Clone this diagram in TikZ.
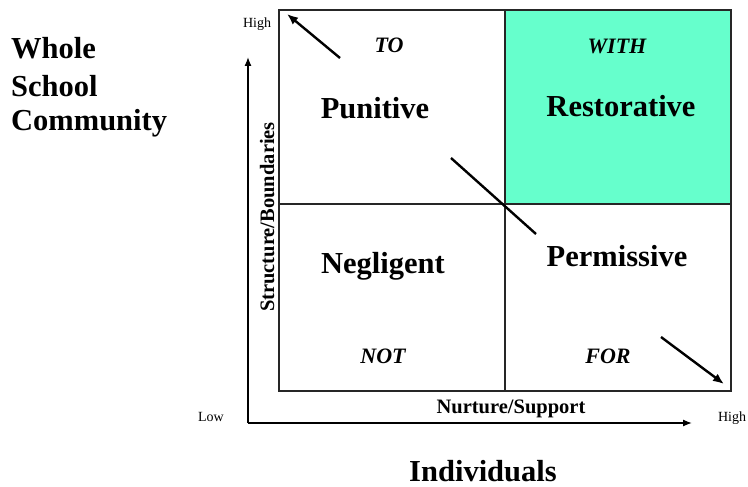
\documentclass[tikz,border=0pt]{standalone}
\usepackage{fontspec}
\setmainfont{Liberation Serif}
\usetikzlibrary{arrows.meta,positioning}
\definecolor{restgreen}{RGB}{102,255,204}
\tikzset{
  quad/.style={draw=black!85,line width=1.2pt,inner sep=0pt,minimum width=226pt},
  style big/.style={font=\fontsize{30.5}{32}\selectfont\bfseries,inner sep=0pt},
  style way/.style={font=\fontsize{22}{24}\selectfont\bfseries\itshape,inner sep=0pt},
  style axis/.style={font=\fontsize{20.5}{22}\selectfont\bfseries,inner sep=0pt},
  style tick/.style={font=\fontsize{14}{16}\selectfont,inner sep=0pt},
  axisline/.style={line width=1.3pt,-{Latex[length=9pt,width=7pt]}},
  dirline/.style={line width=2.4pt,-{Latex[length=11pt,width=9pt]}}
}
\begin{document}
\begin{tikzpicture}[x=1pt,y=-1pt]
                 \useasboundingbox (0,0) rectangle (748,487);
                 % quadrants
                 \node[quad,fill=restgreen,minimum height=194pt](tr)at(618,107){};
                 \node[quad,minimum height=194pt](tl)at(392,107){};
                 \node[quad,minimum height=187pt](bl)at(392,297.5){};
                 \node[quad,minimum height=187pt](br)at(618,297.5){};
                 % axes
                 \coordinate (o) at (248,423);
                 \coordinate (ytop) at (248,57);
                 \coordinate (xend) at (692,423);
                 \draw[axisline] (o) -- (ytop);
                 \draw[axisline] (o) -- (xend);
                 \node[style tick,anchor=base](hightop)at(257,28){High};
                 \node[style tick,anchor=base](low)at(211,421){Low};
                 \node[style tick,anchor=base](highright)at(732,421){High};
                 \node[style axis,anchor=base](xlab)at(511,413){Nurture/Support};
                 \node[style axis,anchor=base,rotate=90](ylab)at(274,217){Structure/Boundaries};
                 % quadrant labels
                 \node[style way,anchor=base](to)at(389,53){TO};
                 \node[style way,anchor=base](with)at(617,54){WITH};
                 \node[style way,anchor=base](not)at(383,363){NOT};
                 \node[style way,anchor=base](for)at(608,363){FOR};
                 \node[style big,anchor=base](pun)at(375,118){Punitive};
                 \node[style big,anchor=base](res)at(621,117){Restorative};
                 \node[style big,anchor=base](neg)at(383,273){Negligent};
                 \node[style big,anchor=base](per)at(617,266){Permissive};
                 % direction arrows
                 \coordinate (a1) at (340,58);
                 \coordinate (a2) at (287,14);
                 \coordinate (c1) at (451,158);
                 \coordinate (c2) at (536,234);
                 \coordinate (b1) at (661,337);
                 \coordinate (b2) at (724,384);
                 \draw[dirline] (a1) -- (a2);
                 \draw[line width=2.4pt] (c1) -- (c2);
                 \draw[dirline] (b1) -- (b2);
                 % outer titles
                 \node[style big,anchor=base west](whole)at(11,59){Whole};
                 \node[style big,anchor=base west](school)at(11,96){School};
                 \node[style big,anchor=base west](comm)at(11,131){Community};
                 \node[style big,anchor=base](indiv)at(483,481){Individuals};
               \end{tikzpicture}
\end{document}
